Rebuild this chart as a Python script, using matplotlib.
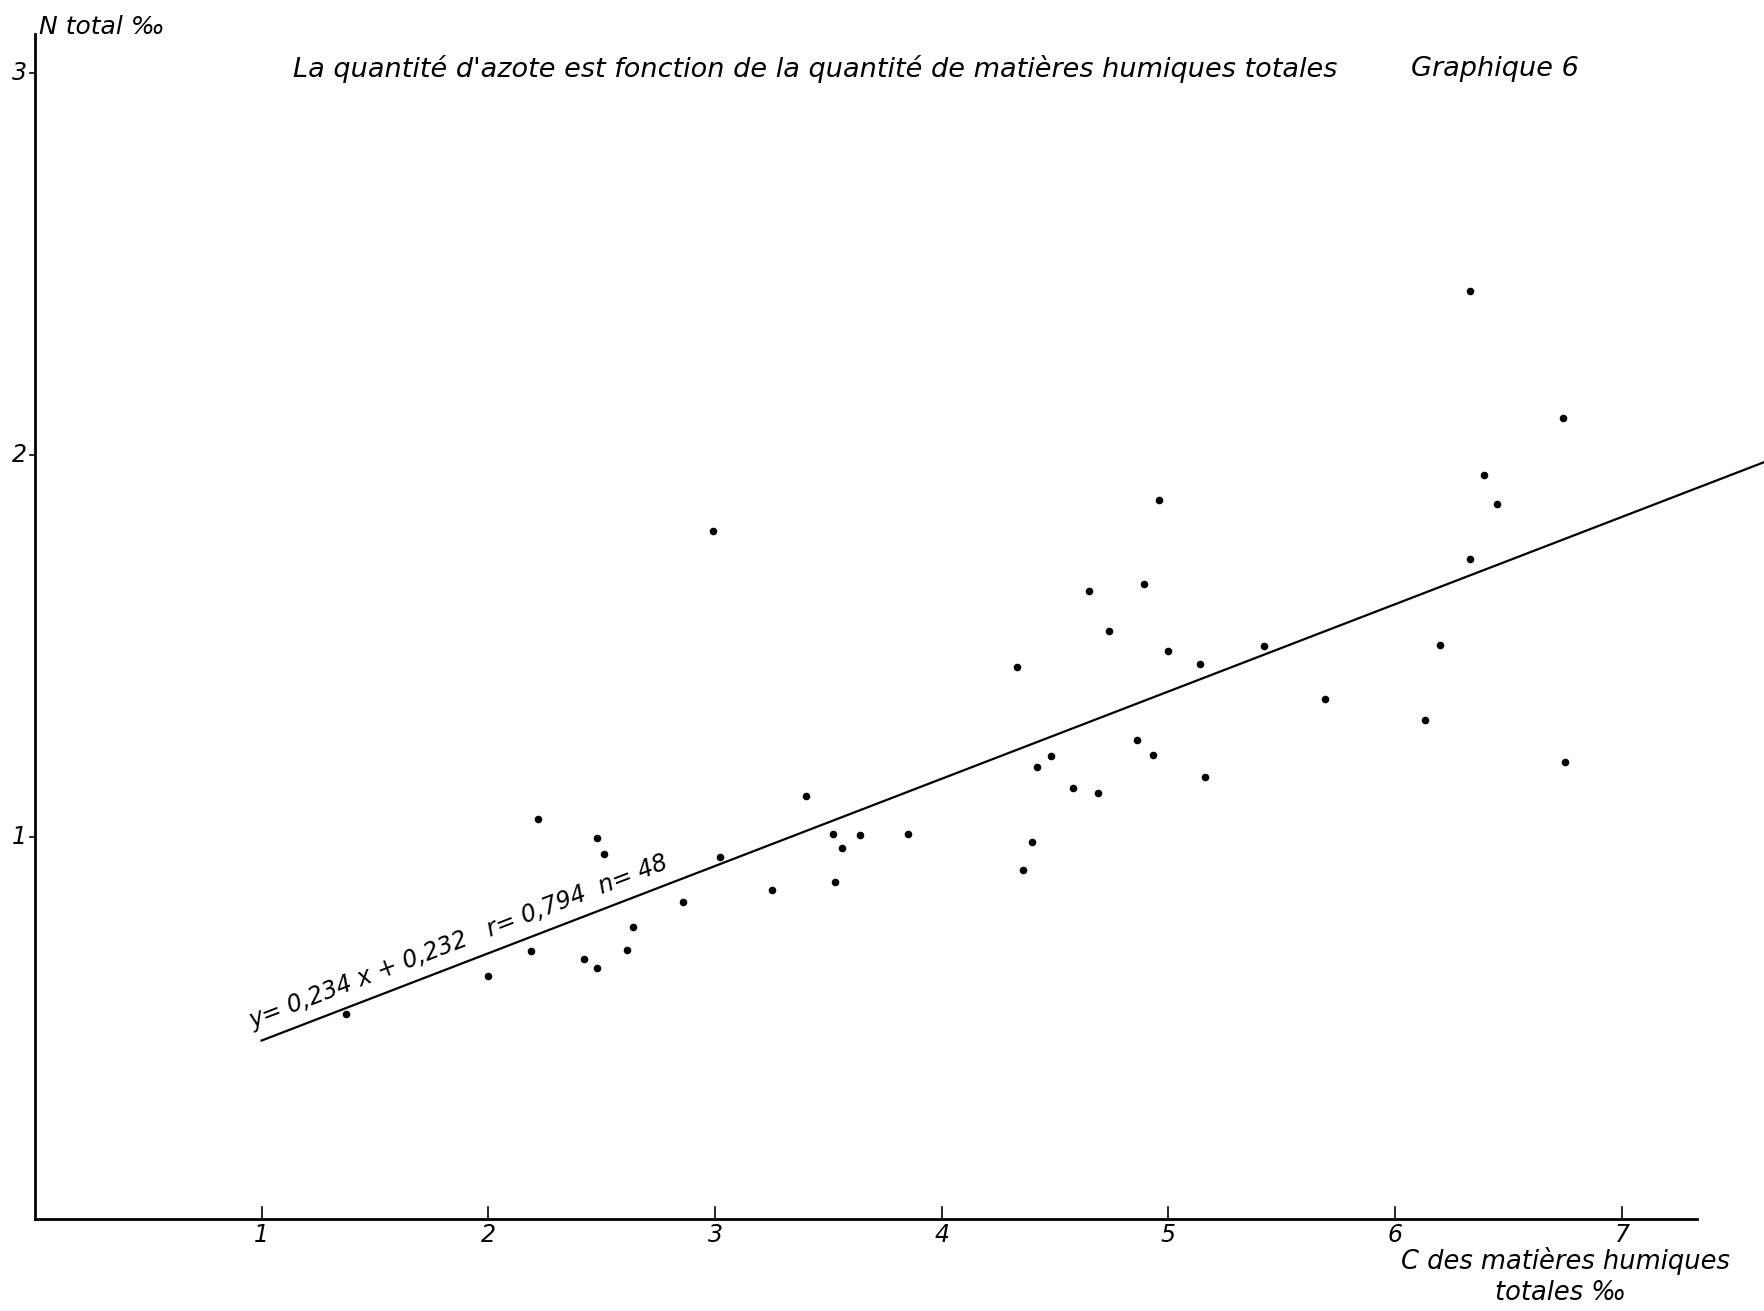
import numpy as np
from matplotlib import pyplot as plt

# values (C humic matter %o vs N total %o)
c_humic = [1.37, 2.00, 2.19, 2.22, 2.42, 2.48, 2.48, 2.51, 2.61, 2.64,
           2.86, 2.99, 3.02, 3.25, 3.40, 3.52, 3.53, 3.56, 3.64, 3.85,
           4.33, 4.36, 4.40, 4.42, 4.48, 4.58, 4.65, 4.69, 4.74, 4.86,
           4.89, 4.93, 4.96, 5.00, 5.14, 5.16, 5.42, 5.69, 6.13, 6.20,
           6.33, 6.33, 6.39, 6.45, 6.74, 6.75]
n_total = [0.536, 0.636, 0.700, 1.046, 0.680, 0.657, 0.995, 0.954, 0.704, 0.763,
           0.828, 1.800, 0.946, 0.860, 1.107, 1.007, 0.881, 0.969, 1.004, 1.007,
           1.443, 0.913, 0.987, 1.181, 1.211, 1.128, 1.644, 1.113, 1.538, 1.252,
           1.661, 1.214, 1.882, 1.487, 1.452, 1.155, 1.499, 1.361, 1.305, 1.502,
           1.726, 2.427, 1.947, 1.870, 2.097, 1.196]

# the regression line as it was drawn by hand (ends)
line_x = [1.0, 7.627]
line_y = [0.466, 1.98]
x_ticks = [1, 2, 3, 4, 5, 6, 7]
y_ticks = [1, 2, 3]

hand = dict(family='DejaVu Sans', style='italic', weight='light', color='black')

fig = plt.figure(figsize=(17.64, 13.11), dpi=100)
ax = fig.add_axes([0, 0, 1, 1])
ax.set_xlim(-0.154, 7.627)
ax.set_ylim(-0.242, 3.19)
ax.axis('off')

# hand drawn axes
ax.plot([0, 7.33], [0, 0], color='black', lw=2)
ax.plot([0, 0], [0, 3.10], color='black', lw=2)
for t in x_ticks:
    ax.plot([t, t], [0, 0.03], color='black', lw=1.2)
    ax.text(t, -0.012, str(t), ha='center', va='top', fontsize=17, **hand)
for t in y_ticks:
    ax.plot([-0.02, 0], [t, t], color='black', lw=1.2)
    ax.text(-0.035, t, str(t), ha='right', va='center', fontsize=17, **hand)

# points and regression line
ax.scatter(c_humic, n_total, s=30, c='black', linewidths=0)
ax.plot(line_x, line_y, color='black', lw=1.6)

ax.text(0.97, 0.485, 'y= 0,234 x + 0,232   r= 0,794  n= 48', rotation=21,
        rotation_mode='anchor', ha='left', va='bottom', fontsize=17, **hand)

# titles and labels
ax.text(3.44, 3.01, "La quantité d'azote est fonction de la quantité de matières humiques totales",
        ha='center', va='center', fontsize=19.5, **hand)
ax.text(6.44, 3.01, 'Graphique 6', ha='center', va='center', fontsize=19.5, **hand)
ax.text(0.02, 3.12, 'N total ‰', ha='left', va='center', fontsize=18, **hand)
ax.text(6.75, -0.112, 'C des matières humiques', ha='center', va='center', fontsize=18.5, **hand)
ax.text(6.73, -0.195, 'totales ‰', ha='center', va='center', fontsize=18.5, **hand)

plt.savefig('out.png', dpi=100)
